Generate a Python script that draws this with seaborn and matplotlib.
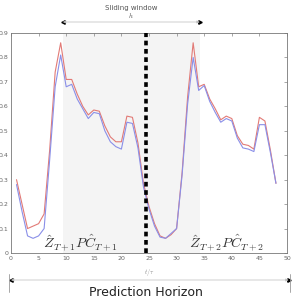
import numpy as np
import pandas as pd
import matplotlib
matplotlib.use("Agg")
import matplotlib.pyplot as plt
import matplotlib.transforms as mtransforms
import seaborn as sns

t = list(range(1, 49))
red = [0.30, 0.20, 0.10, 0.11, 0.12, 0.16, 0.42, 0.74, 0.86, 0.71, 0.71, 0.65,
       0.60, 0.565, 0.585, 0.58, 0.52, 0.475, 0.455, 0.455, 0.56, 0.555, 0.45, 0.285,
       0.19, 0.12, 0.07, 0.06, 0.075, 0.10, 0.33, 0.64, 0.86, 0.68, 0.69, 0.63,
       0.59, 0.545, 0.56, 0.55, 0.48, 0.445, 0.44, 0.425, 0.555, 0.54, 0.42, 0.285]
blue = [0.28, 0.17, 0.07, 0.06, 0.07, 0.10, 0.38, 0.68, 0.81, 0.68, 0.69, 0.63,
        0.59, 0.55, 0.575, 0.57, 0.50, 0.455, 0.435, 0.425, 0.535, 0.53, 0.43, 0.27,
        0.18, 0.11, 0.065, 0.06, 0.08, 0.10, 0.32, 0.61, 0.80, 0.665, 0.685, 0.62,
        0.575, 0.535, 0.55, 0.54, 0.47, 0.43, 0.425, 0.415, 0.525, 0.525, 0.41, 0.285]
xticks = [0, 5, 10, 15, 20, 25, 30, 35, 40, 45, 50]
yticks = [0, 0.1, 0.2, 0.3, 0.4, 0.5, 0.6, 0.7, 0.8, 0.9]
window = (9.4, 34.2)
split = 24.5

sns.set_style("white")
plt.rcParams["mathtext.fontset"] = "cm"
plt.rcParams["font.family"] = ["DejaVu Sans"]

df = pd.DataFrame({"t": t * 2, "v": red + blue,
                   "s": ["pred"] * len(t) + ["true"] * len(t)})

fig = plt.figure(figsize=(2.93, 3.0), dpi=100)
ax = fig.add_axes([11 / 293, 1 - 253 / 300, (287 - 11) / 293, (253 - 33) / 300])

ax.axvspan(window[0], window[1], color="#f4f4f4", zorder=0, lw=0)
sns.lineplot(data=df, x="t", y="v", hue="s", palette={"pred": "#e27a76", "true": "#8a8fe8"},
             lw=0.8, ax=ax, legend=False, zorder=3)
ax.axvline(split, color="black", lw=2.6, ls=(0, (1.3, 1.0)), zorder=4)

ax.set_xlim(0, 50)
ax.set_ylim(0, 0.9)
ax.set_xticks(xticks)
ax.set_yticks(yticks)
ax.set_xticklabels([str(v) for v in xticks])
ax.set_yticklabels(["0"] + [f"{v:.1f}" for v in yticks[1:]])
ax.tick_params(direction="in", length=2, width=0.4, labelsize=4.5, colors="#666666",
               top=True, right=True, pad=2)
for s in ax.spines.values():
    s.set_color("#777777")
    s.set_linewidth(0.6)
ax.set_xlabel("")
ax.set_ylabel("")

ax.text(5.8, 0.02, r"$\hat{Z}_{T+1}P\hat{C}_{T+1}$", fontsize=10, color="#333333", zorder=5)
ax.text(32.3, 0.02, r"$\hat{Z}_{T+2}P\hat{C}_{T+2}$", fontsize=10, color="#333333", zorder=5)

# sliding window arrow above the axes
tr = mtransforms.blended_transform_factory(ax.transData, fig.transFigure)
ax.annotate("", xy=(window[0], 1 - 22 / 300), xytext=(window[1], 1 - 22 / 300),
            xycoords=tr, textcoords=tr, annotation_clip=False,
            arrowprops=dict(arrowstyle="<|-|>", color="#bbbbbb", lw=0.5,
                            mutation_scale=4, shrinkA=0, shrinkB=0))
for xx in window:
    ax.plot([xx], [1 - 22 / 300], transform=tr, marker=">" if xx > 20 else "<",
            ms=2.5, color="black", clip_on=False)
xc = (window[0] + window[1]) / 2 * 276 / 50 / 293 + 11 / 293
fig.text(xc, 1 - 8 / 300, "Sliding window", ha="center", va="center", fontsize=5,
         color="#555555")
fig.text(xc, 1 - 15 / 300, r"$h$", ha="center", va="center", fontsize=5, color="#555555")

# prediction horizon arrow
ax.text(25, 1 - 273 / 300, r"$t/\tau$", transform=tr, ha="center", va="center",
        fontsize=4.5, color="#888888")
y_ph = 1 - 280 / 300
ax.annotate("", xy=(0, y_ph), xytext=(50.3, y_ph), xycoords=tr, textcoords=tr,
            annotation_clip=False,
            arrowprops=dict(arrowstyle="<|-|>", color="#bbbbbb", lw=0.5,
                            mutation_scale=4, shrinkA=0, shrinkB=0))
ax.plot([0], [y_ph], transform=tr, marker="<", ms=2.5, color="black", clip_on=False)
ax.plot([50.3], [y_ph], transform=tr, marker=">", ms=2.5, color="black", clip_on=False)
for xx in (-0.3, 50.6):
    ax.plot([xx, xx], [1 - 274 / 300, 1 - 292 / 300], transform=tr, color="#999999",
            lw=0.6, clip_on=False)
fig.text(146 / 293, 1 - 292 / 300, "Prediction Horizon", ha="center", va="center",
         fontsize=9, color="#222222")

fig.savefig("out.png", dpi=100)
